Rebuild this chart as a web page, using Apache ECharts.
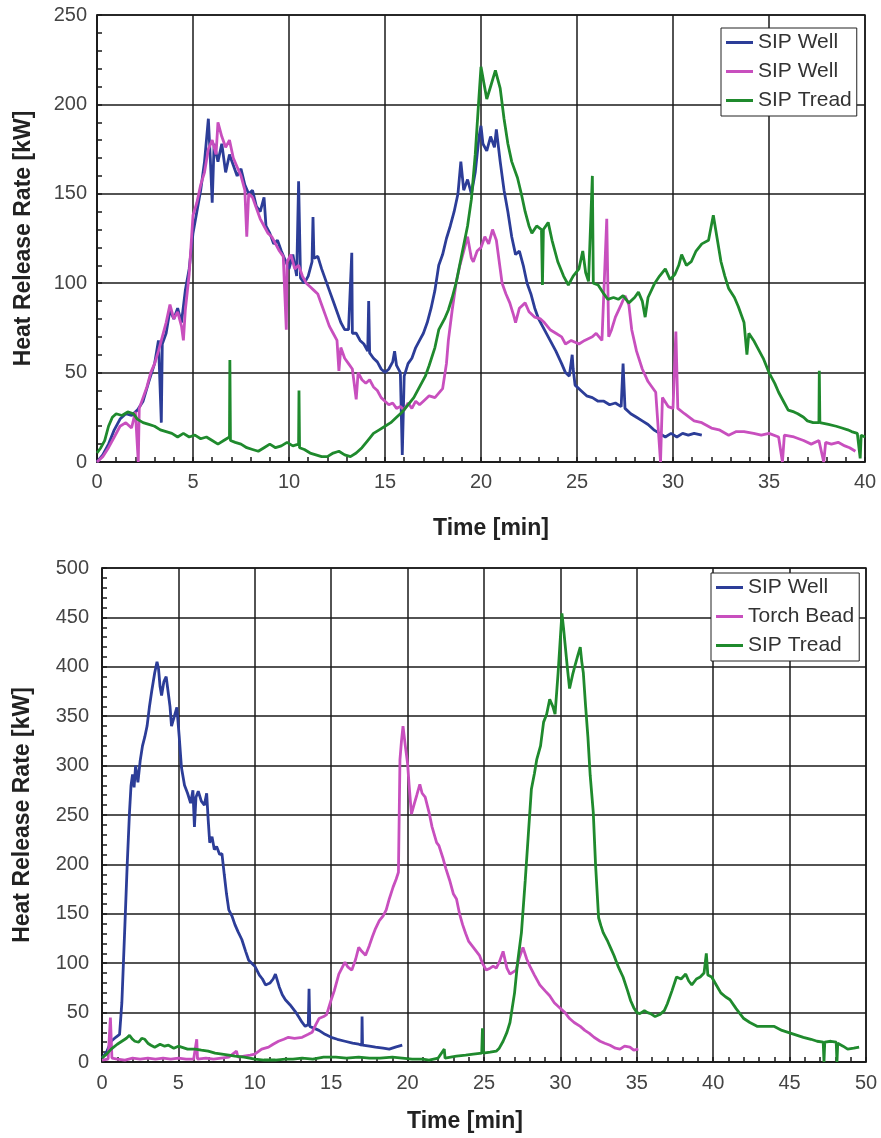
<!DOCTYPE html>
<html><head><meta charset="utf-8">
<script src="https://cdn.jsdelivr.net/npm/echarts@6/dist/echarts.min.js"></script>
<style>html,body{margin:0;padding:0;background:#fff;}#c1{position:absolute;left:0;top:0;width:881px;height:550px;}#c2{position:absolute;left:0;top:550px;width:881px;height:588px;}</style>
</head><body><div id="c1"></div><div id="c2"></div>
<script>
// ---------- Top chart data ----------
const topNames = ['SIP Well', 'SIP Well ', 'SIP Tread'];
const topXTicks = [0, 5, 10, 15, 20, 25, 30, 35, 40];
const topYTicks = [0, 50, 100, 150, 200, 250];
const topWell1 = [[0,0],[0.3,4],[0.6,10],[0.9,18],[1.2,24],[1.5,27],[1.8,26],[2.1,29],[2.4,34],[2.7,45],[3.0,55],[3.2,68],[3.35,22],[3.4,66],[3.6,72],[3.8,85],[4.0,80],[4.2,86],[4.4,78],[4.6,96],[4.8,108],[5.0,128],[5.2,140],[5.4,152],[5.6,168],[5.8,192],[5.9,170],[6.0,145],[6.1,178],[6.3,168],[6.5,178],[6.7,162],[6.9,172],[7.1,166],[7.3,160],[7.5,164],[7.7,155],[7.9,150],[8.1,152],[8.3,143],[8.5,140],[8.7,148],[8.8,132],[9.0,128],[9.2,122],[9.4,124],[9.6,118],[9.8,113],[10.0,108],[10.2,116],[10.4,104],[10.5,157],[10.6,103],[10.8,100],[11.0,104],[11.2,112],[11.25,137],[11.3,114],[11.5,115],[11.7,108],[11.9,102],[12.1,96],[12.3,90],[12.5,84],[12.7,78],[12.9,74],[13.1,74],[13.27,117],[13.3,72],[13.5,72],[13.7,68],[13.9,66],[14.1,62],[14.15,90],[14.2,61],[14.4,58],[14.6,56],[14.8,52],[15.0,50],[15.2,52],[15.4,56],[15.5,62],[15.6,54],[15.8,50],[15.9,4],[16.0,48],[16.2,55],[16.4,58],[16.6,64],[16.8,68],[17.0,72],[17.2,78],[17.4,86],[17.6,96],[17.8,110],[18.0,116],[18.2,125],[18.4,132],[18.6,140],[18.8,150],[18.95,168],[19.1,152],[19.3,158],[19.5,150],[19.7,162],[19.9,182],[20.0,188],[20.1,178],[20.3,174],[20.5,182],[20.7,176],[20.8,186],[21.0,168],[21.2,152],[21.4,140],[21.6,126],[21.8,116],[22.0,118],[22.2,110],[22.4,100],[22.6,94],[22.8,86],[23.0,80],[23.3,74],[23.6,68],[23.9,62],[24.2,55],[24.4,50],[24.6,48],[24.75,60],[24.8,52],[24.9,43],[25.2,40],[25.5,37],[25.8,36],[26.1,34],[26.4,34],[26.7,32],[27.0,33],[27.3,31],[27.4,55],[27.5,30],[27.8,27],[28.1,25],[28.4,23],[28.7,21],[29.0,18],[29.3,16],[29.6,14],[29.9,16],[30.2,14],[30.5,16],[30.8,15],[31.1,16],[31.5,15]];
const topWell2 = [[0,0],[0.3,3],[0.6,8],[0.9,14],[1.2,20],[1.5,22],[1.8,19],[2.0,28],[2.15,0],[2.2,30],[2.4,36],[2.6,42],[2.8,50],[3.0,55],[3.2,62],[3.4,70],[3.6,78],[3.8,88],[4.0,80],[4.2,84],[4.4,76],[4.5,68],[4.6,85],[4.8,105],[5.0,138],[5.2,145],[5.4,155],[5.6,162],[5.8,175],[6.0,180],[6.2,172],[6.3,190],[6.5,182],[6.7,176],[6.9,180],[7.1,170],[7.3,165],[7.5,160],[7.7,152],[7.8,126],[7.9,150],[8.1,148],[8.3,142],[8.5,136],[8.7,132],[8.9,128],[9.1,126],[9.3,122],[9.5,118],[9.7,115],[9.86,74],[9.9,112],[10.1,116],[10.3,108],[10.5,110],[10.7,104],[10.9,100],[11.1,98],[11.3,96],[11.5,94],[11.7,88],[11.9,82],[12.1,76],[12.3,72],[12.5,68],[12.6,51],[12.7,64],[12.9,58],[13.1,55],[13.3,52],[13.5,35],[13.6,50],[13.8,46],[14.0,44],[14.2,46],[14.4,42],[14.6,40],[14.8,36],[15.0,34],[15.2,32],[15.4,33],[15.6,30],[15.8,31],[16.0,29],[16.2,33],[16.4,30],[16.6,34],[16.8,32],[17.0,34],[17.3,37],[17.6,36],[18.0,41],[18.2,55],[18.3,68],[18.5,85],[18.7,100],[18.9,110],[19.1,118],[19.3,126],[19.5,114],[19.6,112],[19.8,118],[20.0,120],[20.2,126],[20.4,122],[20.6,130],[20.8,124],[21.0,108],[21.1,100],[21.3,94],[21.5,89],[21.7,82],[21.8,78],[22.0,86],[22.3,89],[22.5,84],[22.8,81],[23.1,80],[23.3,78],[23.6,74],[23.9,72],[24.2,70],[24.4,66],[24.7,68],[25.1,66],[25.4,68],[25.8,70],[26.0,72],[26.3,68],[26.55,136],[26.65,70],[26.8,74],[27.0,81],[27.3,88],[27.5,93],[27.7,88],[27.85,74],[28.1,62],[28.4,52],[28.7,45],[29.1,39],[29.35,0],[29.45,36],[29.75,31],[30.0,30],[30.15,73],[30.25,30],[30.6,27],[31.1,23],[31.5,22],[32.0,19],[32.4,18],[32.9,15],[33.3,17],[33.7,17],[34.2,16],[34.6,15],[35.0,16],[35.5,14],[35.7,0],[35.8,15],[36.3,14],[36.8,12],[37.2,10],[37.6,12],[37.85,0],[37.95,11],[38.25,10],[38.6,11],[38.95,9],[39.2,8],[39.5,6]];
const topTread = [[0,5],[0.2,8],[0.4,12],[0.6,20],[0.8,25],[1.0,27],[1.3,26],[1.6,28],[1.9,27],[2.1,24],[2.4,22],[2.7,21],[3.0,20],[3.3,18],[3.6,17],[3.9,16],[4.2,14],[4.5,16],[4.8,14],[5.1,15],[5.4,13],[5.7,14],[6.0,12],[6.3,10],[6.6,12],[6.9,14],[6.92,57],[6.95,12],[7.2,11],[7.5,10],[7.8,8],[8.1,7],[8.4,6],[8.7,8],[9.0,10],[9.3,8],[9.6,9],[9.9,11],[10.2,9],[10.5,10],[10.52,40],[10.55,8],[10.8,7],[11.1,5],[11.4,4],[11.7,3],[12.0,3],[12.3,5],[12.6,6],[12.9,4],[13.2,3],[13.5,5],[13.8,8],[14.1,12],[14.4,16],[14.7,18],[15.0,20],[15.3,22],[15.6,25],[15.9,28],[16.2,32],[16.5,36],[16.8,42],[17.1,48],[17.3,54],[17.6,64],[17.8,74],[18.1,80],[18.3,85],[18.5,92],[18.7,100],[19.0,116],[19.3,132],[19.5,147],[19.7,172],[19.9,205],[20.0,221],[20.15,212],[20.3,203],[20.5,210],[20.75,219],[21.0,209],[21.2,192],[21.4,178],[21.6,168],[21.9,159],[22.1,150],[22.3,140],[22.5,132],[22.65,128],[22.9,132],[23.15,130],[23.2,99],[23.25,130],[23.5,134],[23.7,124],[24.0,112],[24.3,104],[24.55,99],[24.8,104],[25.1,108],[25.3,118],[25.45,106],[25.6,101],[25.8,160],[25.85,100],[26.1,99],[26.4,94],[26.6,91],[26.9,92],[27.15,91],[27.4,93],[27.7,89],[28.0,92],[28.2,95],[28.4,90],[28.55,81],[28.7,92],[29.05,100],[29.3,104],[29.6,108],[29.85,102],[30.1,105],[30.3,110],[30.45,116],[30.7,110],[30.95,112],[31.2,118],[31.5,122],[31.85,124],[32.1,138],[32.3,125],[32.5,112],[32.7,104],[32.9,97],[33.2,92],[33.4,87],[33.7,78],[33.85,60],[33.95,72],[34.2,68],[34.4,64],[34.7,58],[35.0,50],[35.3,44],[35.5,39],[35.8,33],[36.0,29],[36.3,28],[36.5,27],[36.8,25],[37.0,23],[37.3,22],[37.6,22],[37.62,51],[37.65,22],[38.1,21],[38.5,20],[38.8,19],[39.1,18],[39.3,17],[39.6,16],[39.75,2],[39.8,15],[40,14]];

// ---------- Bottom chart data ----------
const botNames = ['SIP Well', 'Torch Bead', 'SIP Tread'];
const botXTicks = [0, 5, 10, 15, 20, 25, 30, 35, 40, 45, 50];
const botYTicks = [0, 50, 100, 150, 200, 250, 300, 350, 400, 450, 500];
const botWell = [[0,4],[0.3,10],[0.6,21],[0.9,25],[1.15,28],[1.3,60],[1.5,139],[1.65,200],[1.8,253],[1.9,280],[2.0,291],[2.1,278],[2.2,300],[2.35,283],[2.5,305],[2.65,320],[2.8,329],[2.95,340],[3.1,359],[3.25,375],[3.45,394],[3.6,405],[3.7,398],[3.8,380],[3.9,371],[4.05,385],[4.2,390],[4.35,372],[4.45,360],[4.55,340],[4.7,348],[4.9,359],[5.05,330],[5.2,298],[5.4,280],[5.6,272],[5.8,262],[5.95,275],[6.05,238],[6.15,268],[6.3,274],[6.5,264],[6.7,260],[6.85,272],[6.95,245],[7.05,222],[7.2,228],[7.35,215],[7.5,218],[7.7,210],[7.85,211],[8.0,190],[8.15,170],[8.3,154],[8.5,148],[8.7,139],[8.9,132],[9.15,124],[9.4,112],[9.6,103],[9.8,100],[10.0,97],[10.3,88],[10.5,84],[10.7,78],[11.0,80],[11.2,84],[11.35,89],[11.6,76],[11.8,68],[12.0,63],[12.3,58],[12.65,51],[12.9,45],[13.1,40],[13.3,36],[13.5,38],[13.55,74],[13.6,36],[13.9,34],[14.2,32],[14.6,28],[15.0,25],[15.4,23],[15.9,21],[16.4,19],[16.8,18],[17.0,17],[17.02,46],[17.05,17],[17.5,16],[17.9,15],[18.4,14],[18.8,13],[19.2,15],[19.65,17]];
const botTorch = [[0,2],[0.4,3],[0.55,45],[0.65,4],[1.0,3],[1.5,2],[2.0,4],[2.5,3],[3.0,4],[3.5,3],[4.0,4],[4.5,3],[5.0,4],[5.5,3],[6.0,3],[6.2,23],[6.25,3],[6.8,4],[7.3,3],[7.8,4],[8.3,5],[8.8,11],[8.9,5],[9.3,6],[9.7,7],[10.0,8],[10.45,13],[10.9,15],[11.2,18],[11.55,21],[11.9,23],[12.2,25],[12.6,24],[13.1,25],[13.5,28],[13.75,30],[14.0,38],[14.2,44],[14.5,46],[14.7,48],[15.0,63],[15.2,72],[15.5,89],[15.7,95],[15.9,101],[16.1,96],[16.35,93],[16.6,104],[16.8,116],[17.0,112],[17.25,108],[17.5,118],[17.7,127],[17.9,135],[18.15,143],[18.4,148],[18.6,154],[18.8,165],[19.05,177],[19.25,185],[19.4,192],[19.5,306],[19.6,325],[19.7,340],[19.85,320],[20.0,302],[20.1,280],[20.25,251],[20.45,262],[20.6,270],[20.8,281],[20.95,272],[21.15,268],[21.4,253],[21.6,238],[21.9,222],[22.05,219],[22.3,207],[22.5,196],[22.75,184],[23.0,170],[23.2,165],[23.4,150],[23.6,139],[23.8,130],[24.0,122],[24.3,116],[24.5,112],[24.7,108],[24.9,100],[25.15,93],[25.4,95],[25.6,97],[25.8,95],[26.0,101],[26.25,112],[26.5,95],[26.7,89],[26.9,91],[27.1,93],[27.3,105],[27.55,116],[27.8,104],[28.0,97],[28.3,88],[28.65,78],[29.0,72],[29.3,67],[29.6,60],[29.95,55],[30.3,50],[30.6,44],[30.9,40],[31.3,36],[31.6,32],[31.9,29],[32.2,25],[32.6,21],[32.9,19],[33.25,17],[33.6,14],[33.9,13],[34.2,16],[34.55,15],[34.8,12],[35.1,13]];
const botTread = [[0,4],[0.3,8],[0.6,13],[1.0,18],[1.3,21],[1.6,24],[1.8,27],[2.0,23],[2.15,21],[2.4,20],[2.6,24],[2.8,23],[3.0,19],[3.2,17],[3.45,15],[3.8,18],[4.1,16],[4.35,17],[4.7,14],[5.0,16],[5.2,15],[5.6,13],[6.1,13],[6.5,12],[6.95,11],[7.4,9],[7.85,8],[8.3,7],[8.7,6],[9.3,5],[10.0,3],[10.6,2],[11.35,2],[12.0,3],[12.5,3],[13.1,4],[13.8,3],[14.5,5],[15.3,5],[16.0,4],[16.8,5],[17.5,4],[18.2,4],[19.0,5],[19.65,4],[20.3,3],[21.0,3],[21.4,2],[22.0,4],[22.4,13],[22.45,4],[23.2,6],[23.8,7],[24.3,8],[24.85,9],[24.9,34],[24.95,9],[25.4,10],[25.8,11],[26.0,14],[26.25,21],[26.5,30],[26.7,40],[26.85,55],[27.0,70],[27.2,101],[27.45,131],[27.7,184],[27.9,230],[28.1,276],[28.3,292],[28.45,306],[28.7,320],[28.9,344],[29.1,352],[29.3,367],[29.5,360],[29.65,352],[29.85,394],[30.0,430],[30.1,454],[30.2,440],[30.3,424],[30.45,400],[30.6,378],[30.8,392],[30.95,401],[31.15,412],[31.3,420],[31.4,405],[31.5,394],[31.65,360],[31.8,329],[31.95,290],[32.15,253],[32.3,200],[32.5,146],[32.65,138],[32.8,131],[33.1,122],[33.3,115],[33.5,108],[33.8,96],[34.1,86],[34.4,72],[34.6,62],[34.8,55],[35.0,50],[35.2,49],[35.5,52],[35.7,50],[35.9,49],[36.2,46],[36.5,48],[36.8,52],[37.0,59],[37.3,72],[37.6,86],[37.9,84],[38.2,89],[38.4,82],[38.6,78],[38.9,84],[39.15,86],[39.4,90],[39.55,110],[39.65,88],[39.9,86],[40.2,78],[40.5,70],[40.8,66],[41.1,63],[41.5,54],[42.0,44],[42.4,40],[42.9,36],[43.5,36],[44.0,36],[44.5,32],[45.1,29],[45.5,27],[45.9,25],[46.4,23],[46.8,21],[47.2,20],[47.25,0],[47.3,20],[47.7,21],[48.05,20],[48.1,0],[48.15,19],[48.5,16],[48.8,13],[49.2,14],[49.55,15]];

const COLORS = ['#2c3d98', '#c84fbe', '#1f8a2d'];
const FONT = 'Liberation Sans, Arial, sans-serif';

function buildOption(cfg) {
  const xs = cfg.xTicks, ys = cfg.yTicks;
  const axisCommon = {
    type: 'value',
    axisLine: { show: true, lineStyle: { color: '#1a1a1a', width: 1.5 } },
    splitLine: { show: true, lineStyle: { color: '#1a1a1a', width: 1.5 } },
    axisLabel: { fontSize: 20, color: '#444', fontFamily: FONT },
    nameTextStyle: { fontSize: 23, fontWeight: 'bold', color: '#222', fontFamily: FONT }
  };
  return {
    animation: false,
    backgroundColor: '#fff',
    grid: { left: cfg.grid.left, top: cfg.grid.top, width: cfg.grid.width, height: cfg.grid.height,
            show: true, borderColor: '#1a1a1a', borderWidth: 1.5, backgroundColor: 'transparent' },
    legend: {
      orient: 'vertical', left: cfg.legendPos[0], top: cfg.legendPos[1],
      data: cfg.names, icon: 'rect', itemWidth: 27, itemHeight: 3, itemGap: 8,
      padding: [4, 5, 5, 5], borderColor: '#222', borderWidth: 1, backgroundColor: '#fff',
      textStyle: { fontSize: 21, color: '#333', fontFamily: FONT, lineHeight: 21 }
    },
    xAxis: Object.assign({}, axisCommon, {
      min: xs[0], max: xs[xs.length - 1], interval: xs[1] - xs[0],
      name: 'Time [min]', nameLocation: 'middle', nameGap: cfg.xNameGap,
      nameTextStyle: Object.assign({}, axisCommon.nameTextStyle, { padding: cfg.xNamePad }),
      axisTick: { show: true, inside: true, length: 5, lineStyle: { color: '#1a1a1a', width: 1.5 } },
      minorTick: { show: true, splitNumber: 5, length: 5, lineStyle: { color: '#1a1a1a', width: 1.5 } },
      axisLabel: Object.assign({}, axisCommon.axisLabel, { margin: cfg.xLabelMargin })
    }),
    yAxis: Object.assign({}, axisCommon, {
      min: ys[0], max: ys[ys.length - 1], interval: ys[1] - ys[0],
      name: 'Heat Release Rate [kW]', nameLocation: 'middle', nameGap: cfg.yNameGap, nameRotate: 90,
      axisTick: { show: true, inside: true, length: 5, lineStyle: { color: '#1a1a1a', width: 1.5 } },
      minorTick: { show: true, splitNumber: 5, length: 5, lineStyle: { color: '#1a1a1a', width: 1.5 } },
      axisLabel: Object.assign({}, axisCommon.axisLabel, { margin: cfg.yLabelMargin })
    }),
    series: cfg.data.map((d, i) => ({
      name: cfg.names[i], type: 'line', data: d, symbol: 'none', showSymbol: false,
      lineStyle: { width: 2.8, color: COLORS[i] }, itemStyle: { color: COLORS[i] }
    }))
  };
}

const c1 = echarts.init(document.getElementById('c1'), null, { renderer: 'canvas' });
c1.setOption(buildOption({
  names: topNames, xTicks: topXTicks, yTicks: topYTicks,
  data: [topWell1, topWell2, topTread],
  grid: { left: 97, top: 15, width: 768, height: 447 },
  legendPos: [721, 28], xNameGap: 55, xNamePad: [0, 0, 0, 20], yNameGap: 62,
  xLabelMargin: 10, yLabelMargin: 10
}));

const c2 = echarts.init(document.getElementById('c2'), null, { renderer: 'canvas' });
c2.setOption(buildOption({
  names: botNames, xTicks: botXTicks, yTicks: botYTicks,
  data: [botWell, botTorch, botTread],
  grid: { left: 102, top: 18, width: 764, height: 494 },
  legendPos: [711, 23], xNameGap: 48, xNamePad: [0, 38, 0, 0], yNameGap: 68,
  xLabelMargin: 11, yLabelMargin: 13
}));
</script></body></html>
